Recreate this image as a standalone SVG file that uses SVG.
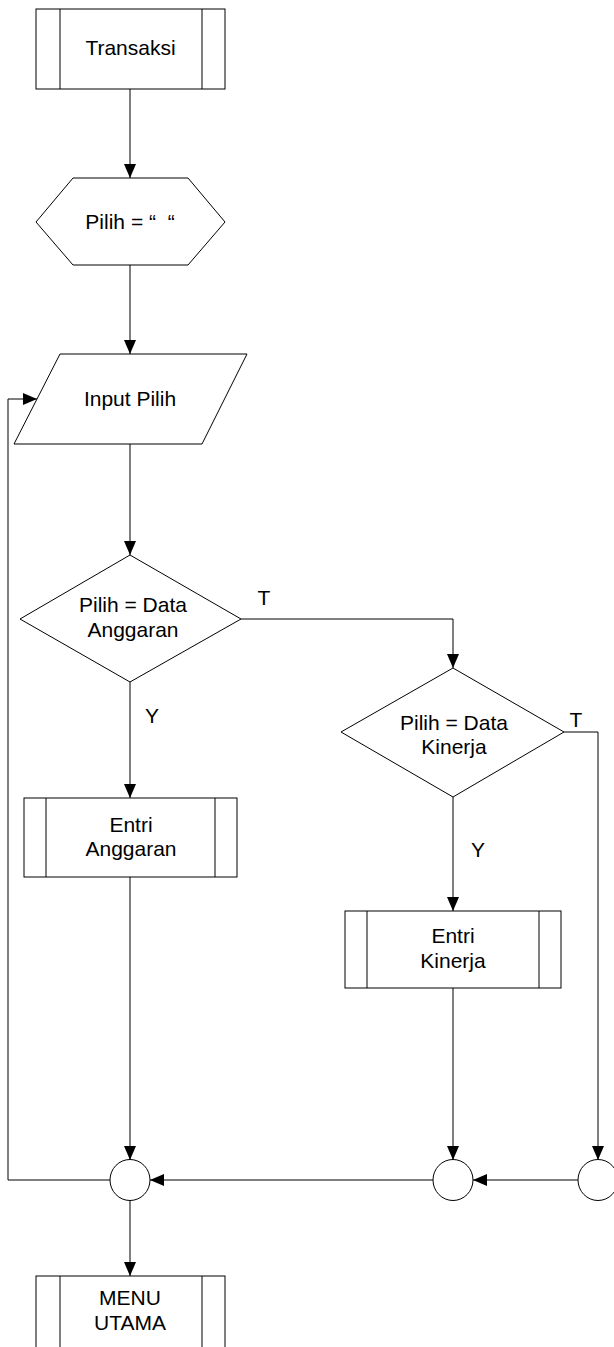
<svg xmlns="http://www.w3.org/2000/svg" width="614" height="1347" viewBox="0 0 614 1347">
<style>
.s{fill:#fff;stroke:#000;stroke-width:1}
.c{fill:none;stroke:#000;stroke-width:1}
text{font-family:"Liberation Sans",Arial,sans-serif;font-size:21px;fill:#000;text-anchor:middle}
</style>
<defs>
<marker id="a" markerUnits="userSpaceOnUse" markerWidth="14" markerHeight="12" refX="14" refY="6" orient="auto">
<path d="M0,0 L14,6 L0,12 z" fill="#000"/>
</marker>
</defs>
<rect width="614" height="1347" fill="#fff"/>
<g id="connectors">
<path class="c" d="M130,89 V178" marker-end="url(#a)"/>
<path class="c" d="M130,265 V354" marker-end="url(#a)"/>
<path class="c" d="M130,444 V555" marker-end="url(#a)"/>
<path class="c" d="M241,619 H453 V668" marker-end="url(#a)"/>
<path class="c" d="M130,682 V798" marker-end="url(#a)"/>
<path class="c" d="M564,732 H598 V1160" marker-end="url(#a)"/>
<path class="c" d="M453,797 V911" marker-end="url(#a)"/>
<path class="c" d="M130,877 V1160" marker-end="url(#a)"/>
<path class="c" d="M453,988 V1160" marker-end="url(#a)"/>
<path class="c" d="M578,1180 H473" marker-end="url(#a)"/>
<path class="c" d="M433,1180 H150" marker-end="url(#a)"/>
<path class="c" d="M110,1180 H8 V399 H37" marker-end="url(#a)"/>
<path class="c" d="M130,1200 V1276" marker-end="url(#a)"/>
<text x="264" y="605">T</text>
<text x="152" y="723">Y</text>
<text x="576" y="727">T</text>
<text x="478" y="857">Y</text>
</g>
<g id="transaksi">
<rect class="s" x="36" y="9" width="189" height="80"/>
<path class="c" d="M60,9 V89 M202,9 V89"/>
<text x="130.5" y="55">Transaksi</text>
</g>
<g id="init">
<polygon class="s" points="73,178 188,178 225,222 188,265 73,265 36,222"/>
<text x="130" y="229" style="white-space:pre">Pilih = “  “</text>
</g>
<g id="input">
<polygon class="s" points="60,354 247,354 202,444 14,444"/>
<text x="130" y="406">Input Pilih</text>
</g>
<g id="cek-anggaran">
<polygon class="s" points="130,555 241,619 130,682 20,619"/>
<text x="133" y="612">Pilih = Data</text>
<text x="133" y="637">Anggaran</text>
</g>
<g id="cek-kinerja">
<polygon class="s" points="453,668 564,732 453,797 341,732"/>
<text x="454" y="730">Pilih = Data</text>
<text x="454" y="754">Kinerja</text>
</g>
<g id="entri-anggaran">
<rect class="s" x="24" y="798" width="213" height="79"/>
<path class="c" d="M46,798 V877 M215,798 V877"/>
<text x="131" y="832">Entri</text>
<text x="131" y="856">Anggaran</text>
</g>
<g id="entri-kinerja">
<rect class="s" x="345" y="911" width="216" height="77"/>
<path class="c" d="M367,911 V988 M539,911 V988"/>
<text x="453" y="943">Entri</text>
<text x="453" y="968">Kinerja</text>
</g>
<g id="join1"><ellipse class="s" cx="130" cy="1180" rx="20" ry="20.5"/></g>
<g id="join2"><ellipse class="s" cx="453" cy="1180" rx="20" ry="20.5"/></g>
<g id="join3"><ellipse class="s" cx="598" cy="1180" rx="20" ry="20.5"/></g>
<g id="menu-utama">
<rect class="s" x="36" y="1276" width="189" height="80"/>
<path class="c" d="M60,1276 V1356 M202,1276 V1356"/>
<text x="130" y="1305">MENU</text>
<text x="130" y="1330">UTAMA</text>
</g>
</svg>
